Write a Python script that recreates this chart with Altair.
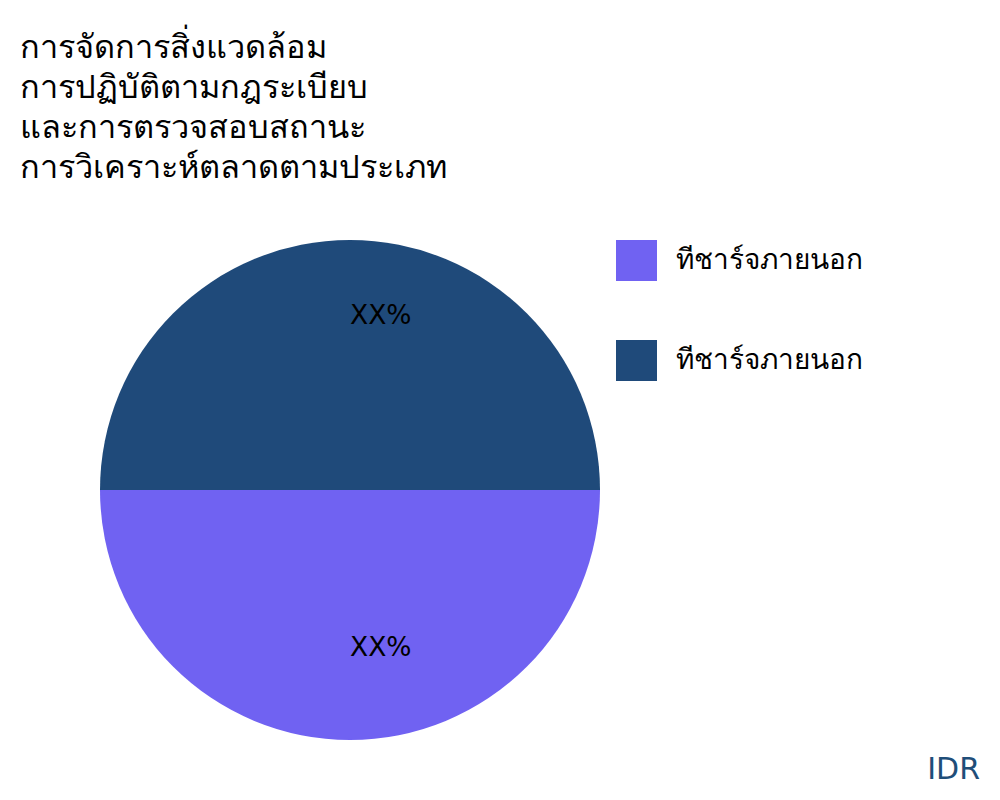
import altair as alt
import pandas as pd

title_lines = [
    "การจัดการสิ่งแวดล้อม",
    "การปฏิบัติตามกฎระเบียบ",
    "และการตรวจสอบสถานะ",
    "การวิเคราะห์ตลาดตามประเภท",
]
series_keys = ["s1", "s2"]
series_labels = ["ทีชาร์จภายนอก", "ทีชาร์จภายนอก"]
series_values = [50, 50]
slice_text = ["XX%", "XX%"]
colors = ["#7062f2", "#1f4a7a"]
source_text = ["IDR"]

df = pd.DataFrame({
    "key": series_keys,
    "label": series_labels,
    "value": series_values,
    "text": slice_text,
    "order": list(range(len(series_keys))),
})

label_expr = " : ".join(
    f"datum.label == '{k}' ? '{l}'" for k, l in zip(series_keys, series_labels)
) + " : datum.label"

FONT = "DejaVu Sans"

base = alt.Chart(df).encode(
    theta=alt.Theta("value:Q", stack=True,
                    scale=alt.Scale(range=[1.5707963, 7.8539816])),
    order=alt.Order("order:Q"),
)

pie = base.mark_arc(radius=250, stroke=None).encode(
    x=alt.value(342),
    y=alt.value(482),
    color=alt.Color(
        "key:N",
        scale=alt.Scale(domain=series_keys, range=colors),
        legend=alt.Legend(
            title=None,
            orient="none",
            legendX=608,
            legendY=232,
            symbolType="square",
            symbolSize=1681,
            symbolStrokeWidth=0,
            labelFontSize=28,
            labelFont=FONT,
            labelColor="#000000",
            labelOffset=19,
            labelLimit=0,
            rowPadding=59,
            padding=0,
            labelExpr=label_expr,
        ),
    ),
)

labels = base.mark_text(
    radius=166, align="left", baseline="alphabetic", fontSize=26.5,
    font=FONT, color="#000000",
).encode(
    x=alt.value(342),
    y=alt.value(482),
    text="text:N",
)

src = alt.Chart(pd.DataFrame({"t": source_text})).mark_text(
    align="right", baseline="alphabetic", fontSize=30, font=FONT, color="#1f4e79",
).encode(
    x=alt.value(972),
    y=alt.value(771),
    text="t:N",
)

chart = alt.layer(pie, labels, src).properties(
    width=984,
    height=784,
    padding=0,
    autosize=alt.AutoSizeParams(type="none"),
    title=alt.TitleParams(
        text=title_lines,
        anchor="start",
        orient="top",
        fontSize=32.5,
        lineHeight=40,
        font=FONT,
        fontWeight="normal",
        color="#000000",
        baseline="top",
        offset=-176,
        dx=12,
    ),
).configure_view(stroke=None)

chart.save("out.html", embed_options={"renderer": "svg", "actions": False})
